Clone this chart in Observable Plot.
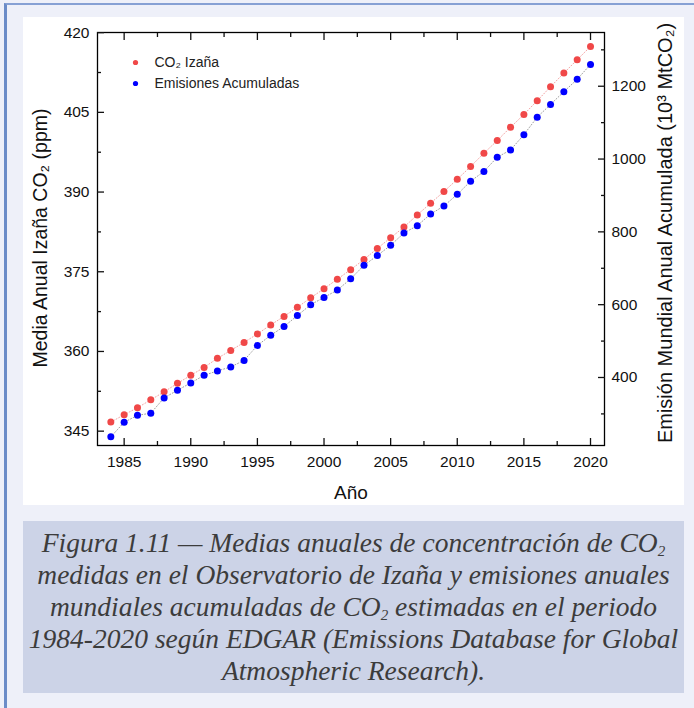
<!DOCTYPE html>
<html>
<head>
<meta charset="utf-8">
<script src="https://cdn.jsdelivr.net/npm/d3@7"></script>
<script src="https://cdn.jsdelivr.net/npm/@observablehq/plot@0.6"></script>
<style>
  html, body { margin: 0; padding: 0; }
  body { width: 694px; height: 708px; overflow: hidden; position: relative; background: #eef0f9; }
  #border { position: absolute; left: 4px; top: 3px; right: 0; bottom: 0; border-left: 3px solid #6b8cc8; border-top: 2px solid #86a0d4; }
  #chart { position: absolute; left: 23px; top: 17px; width: 661px; height: 488px; background: #fff; }
  #caption { position: absolute; left: 23px; top: 521px; width: 661px; height: 172px; background: #ccd3e7;
    font-family: "Liberation Serif", "Times New Roman", serif; font-style: italic; font-size: 27.5px; line-height: 32px;
    color: #3c3c3c; text-align: center; box-sizing: border-box; padding-top: 6px; white-space: nowrap; }
  #caption .ln { display: block; height: 32px; }
  #caption sub { font-size: 15px; line-height: 0; vertical-align: -4px; }
</style>
</head>
<body>
<div id="border"></div>
<div id="chart"></div>
<div id="caption"><span class="ln">Figura 1.11 — Medias anuales de concentración de CO<sub>2</sub></span><span class="ln">medidas en el Observatorio de Izaña y emisiones anuales</span><span class="ln">mundiales acumuladas de CO<sub>2</sub> estimadas en el periodo</span><span class="ln">1984-2020 según EDGAR (Emissions Database for Global</span><span class="ln">Atmospheric Research).</span></div>
<script>
// ---- data ----
const years = [1984, 1985, 1986, 1987, 1988, 1989, 1990, 1991, 1992, 1993, 1994, 1995, 1996, 1997, 1998, 1999, 2000,
  2001, 2002, 2003, 2004, 2005, 2006, 2007, 2008, 2009, 2010, 2011, 2012, 2013, 2014, 2015, 2016, 2017, 2018, 2019, 2020];
const co2Izana = [346.7, 348.1, 349.4, 350.9, 352.4, 354.0, 355.5, 357.0, 358.7, 360.2, 361.7, 363.3, 365.0, 366.6, 368.3, 370.1, 371.8,
  373.6, 375.4, 377.3, 379.4, 381.4, 383.4, 385.7, 387.9, 390.1, 392.4, 394.8, 397.3, 399.7, 402.2, 404.6, 407.2, 409.8, 412.4, 414.9, 417.4];
const emisAcum = [237, 277, 296, 302, 344, 365, 385, 406, 418, 429, 447, 488, 516, 540, 570, 600, 620,
  640, 671, 708, 735, 763, 797, 817, 849, 871, 903, 939, 966, 1005, 1025, 1067, 1115, 1150, 1185, 1219, 1260];

const xMajor = [1985, 1990, 1995, 2000, 2005, 2010, 2015, 2020];
const xMinor = [1987.5, 1992.5, 1997.5, 2002.5, 2007.5, 2012.5, 2017.5];
const leftMajor = [345, 360, 375, 390, 405, 420];
const leftMinor = [352.5, 367.5, 382.5, 397.5, 412.5];
const rightMajor = [400, 600, 800, 1000, 1200];
const rightMinor = [300, 500, 700, 900, 1100, 1300];
const leftDomain = [342.3, 420.03];
const rightDomain = [213.2, 1347.6];

const seriesNames = ["CO₂ Izaña", "Emisiones Acumuladas"];
const seriesColors = ["#f04848", "#0000ff"];
const lineColors = ["#f4a4a4", "#a0a0a0"];
const xTitle = "Año";
const yLeftTitle = "Media Anual Izaña CO₂ (ppm)";
const yRightTitle = "Emisión Mundial Anual Acumulada (10³ MtCO₂)";

// map right-axis values onto the left (shared) y scale
const toLeft = d3.scaleLinear(rightDomain, leftDomain);
const rows = years.map((year, i) => ({year, co2: co2Izana[i], emis: emisAcum[i], emisY: toLeft(emisAcum[i])}));
const blank = () => "";

const chart = Plot.plot({
  width: 661,
  height: 488,
  marginLeft: 74,
  marginRight: 80,
  marginTop: 15,
  marginBottom: 60,
  style: {fontFamily: "'Liberation Sans', Arial, sans-serif", fontSize: "15.5px", color: "#111", background: "#fff"},
  x: {domain: [1983, 2021.05]},
  y: {domain: leftDomain},
  marks: [
    Plot.line(rows, {x: "year", y: "co2", stroke: lineColors[0], strokeWidth: 1, strokeDasharray: "1,2"}),
    Plot.line(rows, {x: "year", y: "emisY", stroke: lineColors[1], strokeWidth: 1, strokeDasharray: "1,2"}),
    Plot.dot(rows, {x: "year", y: "co2", r: 3.5, fill: seriesColors[0]}),
    Plot.dot(rows, {x: "year", y: "emisY", r: 3.5, fill: seriesColors[1]}),
    Plot.frame({stroke: "#000", strokeWidth: 1.3}),
    Plot.axisX({anchor: "bottom", ticks: xMajor, tickSize: -7, tickPadding: 17, tickFormat: d => String(d), label: null, strokeWidth: 1.3}),
    Plot.axisX({anchor: "bottom", ticks: xMinor, tickSize: -4, tickFormat: blank, label: null, strokeWidth: 1.3}),
    Plot.axisX({anchor: "top", ticks: xMajor, tickSize: -7, tickFormat: blank, label: null, strokeWidth: 1.3}),
    Plot.axisX({anchor: "top", ticks: xMinor, tickSize: -4, tickFormat: blank, label: null, strokeWidth: 1.3}),
    Plot.axisY({anchor: "left", ticks: leftMajor, tickSize: -7, tickPadding: 15, tickFormat: d => String(d), label: null, strokeWidth: 1.3}),
    Plot.axisY({anchor: "left", ticks: leftMinor, tickSize: -4, tickFormat: blank, label: null, strokeWidth: 1.3}),
    Plot.axisY({anchor: "right", ticks: rightMajor.map(v => toLeft(v)), tickSize: -7, tickPadding: 14,
      tickFormat: d => String(Math.round(toLeft.invert(d))), label: null, strokeWidth: 1.3}),
    Plot.axisY({anchor: "right", ticks: rightMinor.map(v => toLeft(v)), tickSize: -4, tickFormat: blank, label: null, strokeWidth: 1.3}),
    // legend
    Plot.dot([seriesNames[0]], {frameAnchor: "top-left", dx: 38, dy: 30, r: 2.6, fill: seriesColors[0]}),
    Plot.dot([seriesNames[1]], {frameAnchor: "top-left", dx: 38, dy: 51, r: 2.6, fill: seriesColors[1]}),
    Plot.text([seriesNames[0]], {frameAnchor: "top-left", dx: 57, dy: 30, text: d => d, textAnchor: "start", lineAnchor: "middle", fontSize: 14, fill: "#222"}),
    Plot.text([seriesNames[1]], {frameAnchor: "top-left", dx: 57, dy: 51, text: d => d, textAnchor: "start", lineAnchor: "middle", fontSize: 14, fill: "#222"}),
    // axis titles
    Plot.text([xTitle], {frameAnchor: "bottom", dy: 47, text: d => d, textAnchor: "middle", lineAnchor: "middle", fontSize: 19, fill: "#111"}),
    Plot.text([yLeftTitle], {frameAnchor: "left", dx: -57, dy: -1, rotate: -90, text: d => d, textAnchor: "middle", lineAnchor: "middle", fontSize: 19.5, fill: "#111"}),
    Plot.text([yRightTitle], {frameAnchor: "right", dx: 61, dy: -6, rotate: -90, text: d => d, textAnchor: "middle", lineAnchor: "middle", fontSize: 20, fill: "#111"})
  ]
});
document.getElementById("chart").appendChild(chart);
</script>
</body>
</html>
